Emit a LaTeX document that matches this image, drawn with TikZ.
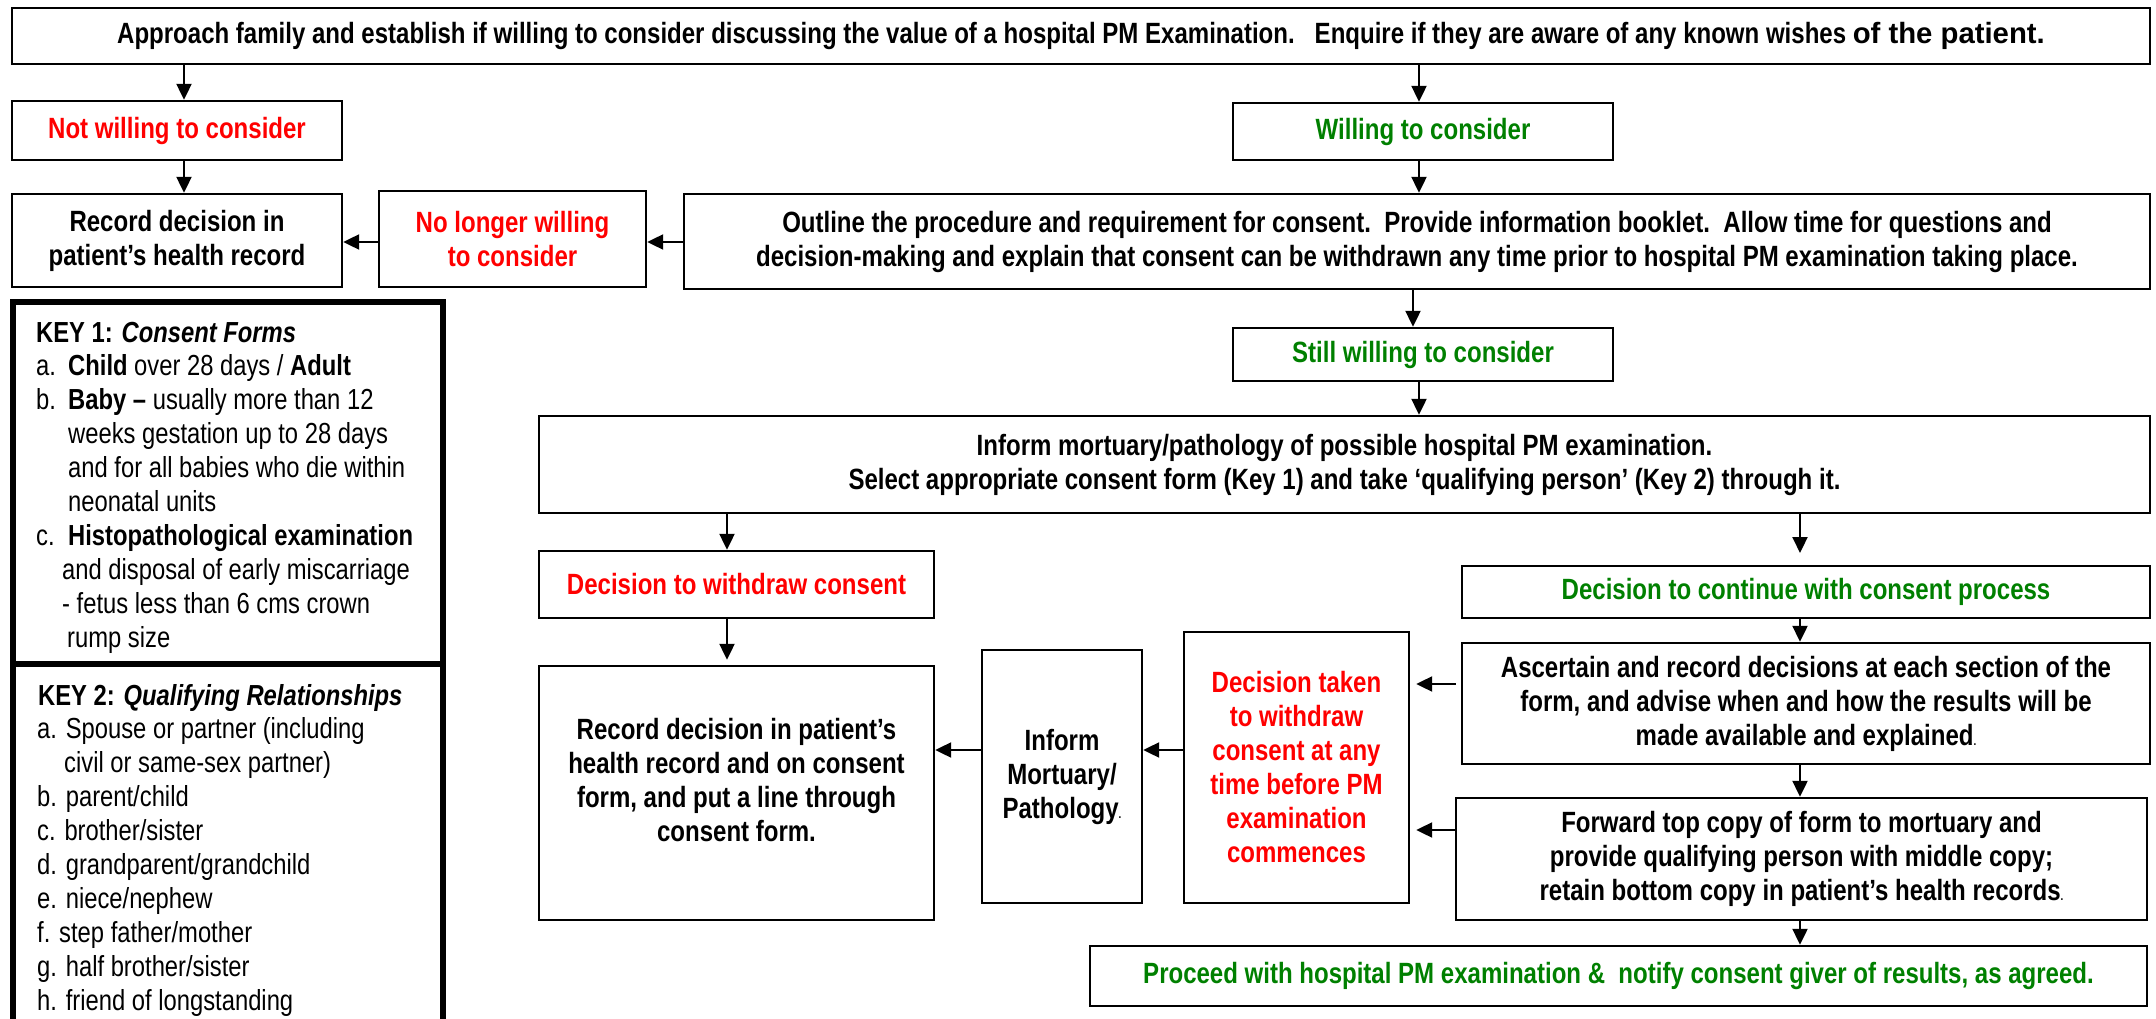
\documentclass[tikz,border=0pt]{standalone}
\usepackage{fontspec}
\setmainfont{Liberation Sans}[FakeStretch=0.82]
\newfontfamily\widefont{Liberation Sans}
\usetikzlibrary{arrows.meta}
\definecolor{myred}{RGB}{255,0,0}
\definecolor{mygreen}{RGB}{0,128,0}
\newcommand{\smalldot}{{\fontsize{12}{12}\selectfont.}}
\begin{document}
\begin{tikzpicture}[x=1pt,y=-1pt,
  box/.style={draw, line width=2.4pt, inner sep=0pt, align=center,
              font=\fontsize{29.3}{34}\selectfont\bfseries},
  redtxt/.style={text=myred},
  greentxt/.style={text=mygreen},
  arr/.style={line width=2.2pt, -{Triangle[length=16pt,width=15pt]}},
  keybox/.style={draw, line width=6pt},
  keytxt/.style={anchor=base west, inner sep=0pt, font=\fontsize{29}{34}\selectfont}]
\useasboundingbox (0,0) rectangle (2156,1019);

% boxes
\node[box, minimum width=2138pt, minimum height=56pt] (top) at (1081,36)
  {Approach family and establish if willing to consider discussing the value of a hospital PM Examination.\ \ \ Enquire if they are aware of any known wishes {\widefont of the patient.}};
\node[box, redtxt, minimum width=330pt, minimum height=59pt] (nw) at (177,130.5) {Not willing to consider};
\node[box, minimum width=330pt, minimum height=93pt] (r1) at (177,240.5) {Record decision in\\patient’s health record};
\node[box, redtxt, minimum width=267pt, minimum height=96pt] (nl) at (512.5,239) {No longer willing\\to consider};
\node[box, minimum width=1466pt, minimum height=95pt] (out) at (1417,241.5)
  {Outline the procedure and requirement for consent.\ \ Provide information booklet.\ \ Allow time for questions and\\decision-making and explain that consent can be withdrawn any time prior to hospital PM examination taking place.};
\node[box, greentxt, minimum width=380pt, minimum height=57pt] (will) at (1423,131.5) {Willing to consider};
\node[box, greentxt, minimum width=380pt, minimum height=53pt] (still) at (1423,354.5) {Still willing to consider};
\node[box, minimum width=1611pt, minimum height=97pt] (inf) at (1344.5,464.5)
  {Inform mortuary/pathology of possible hospital PM examination.\\Select appropriate consent form (Key 1) and take ‘qualifying person’ (Key 2) through it.};
\node[box, redtxt, minimum width=395pt, minimum height=67pt] (dw) at (736.5,584.5) {Decision to withdraw consent};
\node[box, minimum width=395pt, minimum height=254pt] (r2) at (736.5,793) {};
\node[align=center, inner sep=0pt, font=\fontsize{29.3}{34}\selectfont\bfseries] (r2t) at (736.5,780)
  {Record decision in patient’s\\health record and on consent\\form, and put a line through\\consent form.};
\node[box, minimum width=160pt, minimum height=253pt] (im) at (1062,776.5) {Inform\\Mortuary/\\Pathology\smalldot};
\node[box, redtxt, minimum width=225pt, minimum height=271pt] (dtw) at (1296.5,767.5)
  {Decision taken\\to withdraw\\consent at any\\time before PM\\examination\\commences};
\node[box, greentxt, minimum width=688pt, minimum height=52pt] (dc) at (1806,592) {Decision to continue with consent process};
\node[box, minimum width=688pt, minimum height=121pt] (asc) at (1806,703.5)
  {Ascertain and record decisions at each section of the\\form, and advise when and how the results will be\\made available and explained\smalldot};
\node[box, minimum width=691pt, minimum height=122pt] (fwd) at (1801.5,859)
  {Forward top copy of form to mortuary and\\provide qualifying person with middle copy;\\retain bottom copy in patient’s health records\smalldot};
\node[box, greentxt, minimum width=1057pt, minimum height=60pt] (proc) at (1618.5,976)
  {Proceed with hospital PM examination \&\ \ notify consent giver of results, as agreed.};

% key boxes
\draw[keybox] (13,302) rectangle (443,664);
\draw[keybox] (13,664) rectangle (443,1040);

\node[keytxt] (k1h) at (36,342) {\textbf{KEY 1:} \textbf{\textit{Consent Forms}}};
\node[keytxt] (k1al) at (36,375.9) {a.};
\node[keytxt] (k1a) at (68,375.9) {\textbf{Child} over 28 days / \textbf{Adult}};
\node[keytxt] (k1bl) at (36,409.8) {b.};
\node[keytxt] (k1b) at (68,409.8) {\textbf{Baby –} usually more than 12};
\node[keytxt] (k1b2) at (68,443.7) {weeks gestation up to 28 days};
\node[keytxt] (k1b3) at (68,477.6) {and for all babies who die within};
\node[keytxt] (k1b4) at (68,511.5) {neonatal units};
\node[keytxt] (k1cl) at (36,545.4) {c.};
\node[keytxt] (k1c) at (68,545.4) {\textbf{Histopathological examination}};
\node[keytxt] (k1c2) at (62,579.3) {and disposal of early miscarriage};
\node[keytxt] (k1c3) at (62,613.2) {- fetus less than 6 cms crown};
\node[keytxt] (k1c4) at (67,647.1) {rump size};

\node[keytxt] (k2h) at (38,705) {\textbf{KEY 2:} \textbf{\textit{Qualifying Relationships}}};
\node[keytxt] (k2a) at (37,738.9) {a. Spouse or partner (including};
\node[keytxt] (k2a2) at (64,772.8) {civil or same-sex partner)};
\node[keytxt] (k2b) at (37,806.7) {b. parent/child};
\node[keytxt] (k2c) at (37,840.6) {c. brother/sister};
\node[keytxt] (k2d) at (37,874.5) {d. grandparent/grandchild};
\node[keytxt] (k2e) at (37,908.4) {e. niece/nephew};
\node[keytxt] (k2f) at (37,942.3) {f. step father/mother};
\node[keytxt] (k2g) at (37,976.2) {g. half brother/sister};
\node[keytxt] (k2hh) at (37,1010.1) {h. friend of longstanding};

% helper coordinates
\coordinate (xa) at (184,0);
\coordinate (xb) at (1419,0);
\coordinate (xc) at (1413,0);
\coordinate (xd) at (727,0);
\coordinate (xe) at (1800,0);
\coordinate (ya) at (0,242);
\coordinate (yb) at (0,684);
\coordinate (yc) at (0,830);
\coordinate (yd) at (0,750);
\coordinate (dcin) at (1800,553);

% connectors
\draw[arr] (xa |- top.south) -- (xa |- nw.north);
\draw[arr] (xa |- nw.south) -- (xa |- r1.north);
\draw[arr] (xb |- top.south) -- (xb |- will.north);
\draw[arr] (xb |- will.south) -- (xb |- out.north);
\draw[arr] (ya -| out.west) -- (ya -| nl.east);
\draw[arr] (ya -| nl.west) -- (ya -| r1.east);
\draw[arr] (xc |- out.south) -- (xc |- still.north);
\draw[arr] (xb |- still.south) -- (xb |- inf.north);
\draw[arr] (xd |- inf.south) -- (xd |- dw.north);
\draw[arr] (xe |- inf.south) -- (dcin);
\draw[arr, shorten >=5pt] (xd |- dw.south) -- (xd |- r2.north);
\draw[arr] (xe |- dc.south) -- (xe |- asc.north);
\draw[arr] (xe |- asc.south) -- (xe |- fwd.north);
\draw[arr] (xe |- fwd.south) -- (xe |- proc.north);
\draw[arr, shorten <=5pt, shorten >=6pt] (yb -| asc.west) -- (yb -| dtw.east);
\draw[arr, shorten >=6pt] (yc -| fwd.west) -- (yc -| dtw.east);
\draw[arr] (yd -| dtw.west) -- (yd -| im.east);
\draw[arr] (yd -| im.west) -- (yd -| r2.east);
\end{tikzpicture}
\end{document}
